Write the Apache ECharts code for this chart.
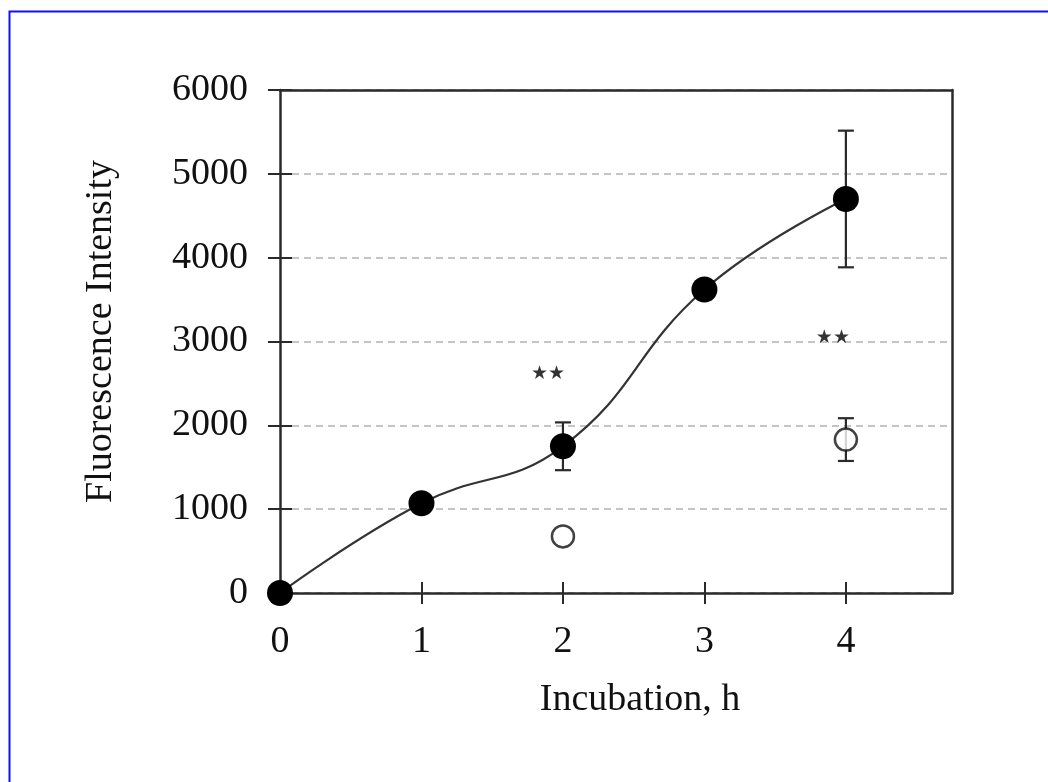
<!DOCTYPE html>
<html>
<head>
<meta charset="utf-8">
<script src="https://cdn.jsdelivr.net/npm/echarts@6/dist/echarts.min.js"></script>
<style>
  html, body { margin: 0; padding: 0; background: #fff; }
  #container { width: 1048px; height: 782px; }
</style>
</head>
<body>
<div id="container"></div>
<script>
// incubation time (h) and fluorescence readings
const hoursFilled = [0, 1, 2, 3, 4];
const valuesFilled = [0, 1070, 1750, 3620, 4700];
const errFilled = [40, 100, 285, 80, 815];

const hoursOpen = [2, 4];
const valuesOpen = [675, 1830];
const errOpen = [0, 255];

// significance marks (**)
const starX = [1.894, 3.908];
const starY = [2612, 3042];

const yTicks = [0, 1000, 2000, 3000, 4000, 5000, 6000];
const xTicks = [0, 1, 2, 3, 4];

const FONT = '"Liberation Serif", "DejaVu Serif", serif';
const INK = '#2a2a2a';

const zip = (xs, ys) => xs.map((x, i) => [x, ys[i]]);

const errData = zip(hoursFilled, valuesFilled).map((p, i) => [p[0], p[1], errFilled[i]])
  .concat(zip(hoursOpen, valuesOpen).map((p, i) => [p[0], p[1], errOpen[i]]))
  .filter(d => d[2] > 0);

const errorBars = function (params, api) {
  const x = api.value(0), y = api.value(1), e = api.value(2);
  const top = api.coord([x, y + e]);
  const bot = api.coord([x, y - e]);
  const cap = 8;
  const style = { stroke: INK, lineWidth: 2.2 };
  return {
    type: 'group',
    children: [
      { type: 'line', shape: { x1: top[0], y1: top[1], x2: bot[0], y2: bot[1] }, style },
      { type: 'line', shape: { x1: top[0] - cap, y1: top[1], x2: top[0] + cap, y2: top[1] }, style },
      { type: 'line', shape: { x1: bot[0] - cap, y1: bot[1], x2: bot[0] + cap, y2: bot[1] }, style }
    ]
  };
};

const chart = echarts.init(document.getElementById('container'), null, { renderer: 'canvas' });

const xBase = { type: 'value', min: 0, max: 4.75, interval: 1, splitLine: { show: false } };
const yBase = { type: 'value', min: 0, max: 6000, interval: 1000 };
const frameLine = { show: true, onZero: false, lineStyle: { color: INK, width: 2.5 } };
const tickStyle = { color: INK, width: 2 };

chart.setOption({
  animation: false,
  backgroundColor: '#fff',
  graphic: [{
    type: 'rect', left: 7, top: 9, silent: true,
    shape: { width: 1100, height: 900 },
    style: { fill: 'none', stroke: '#1010ff', lineWidth: 2 }
  }],
  grid: { left: 280, right: 96, top: 90, bottom: 189 },
  xAxis: [
    Object.assign({}, xBase, {
      position: 'bottom',
      name: 'Incubation, h', nameLocation: 'middle', nameGap: 88,
      nameTextStyle: { fontFamily: FONT, fontSize: 38, color: '#111', padding: [0, 0, 0, 48] },
      axisLine: frameLine,
      axisTick: { show: true, inside: false, length: 11, customValues: xTicks, lineStyle: tickStyle },
      axisLabel: {
        margin: 30, fontFamily: FONT, fontSize: 38, color: '#111',
        customValues: xTicks,
        formatter: v => String(v)
      }
    }),
    Object.assign({}, xBase, {
      position: 'bottom',
      axisLine: { show: false, onZero: false },
      axisTick: { show: true, inside: true, length: 11, customValues: xTicks, lineStyle: tickStyle },
      axisLabel: { show: false }
    }),
    Object.assign({}, xBase, {
      position: 'top',
      axisLine: frameLine,
      axisTick: { show: false },
      axisLabel: { show: false }
    })
  ],
  yAxis: [
    Object.assign({}, yBase, {
      position: 'left',
      name: 'Fluorescence Intensity', nameLocation: 'middle', nameGap: 160,
      nameTextStyle: { fontFamily: FONT, fontSize: 38, color: '#111', padding: [0, 0, 0, 20] },
      axisLine: frameLine,
      axisTick: { show: true, inside: false, length: 12, lineStyle: tickStyle },
      axisLabel: {
        margin: 32, fontFamily: FONT, fontSize: 38, color: '#111',
        formatter: v => yTicks.includes(v) ? String(v) : ''
      },
      splitLine: {
        show: true,
        lineStyle: { color: '#c4c4c4', width: 2, type: [7, 5] }
      }
    }),
    Object.assign({}, yBase, {
      position: 'left',
      axisLine: { show: false, onZero: false },
      axisTick: { show: true, inside: true, length: 12, lineStyle: tickStyle },
      axisLabel: { show: false },
      splitLine: { show: false }
    }),
    Object.assign({}, yBase, {
      position: 'right',
      axisLine: frameLine,
      axisTick: { show: false },
      axisLabel: { show: false },
      splitLine: { show: false }
    })
  ],
  series: [
    {
      type: 'custom',
      renderItem: errorBars,
      data: errData,
      encode: { x: 0, y: [1, 2] },
      z: 2
    },
    {
      type: 'line',
      data: zip(hoursFilled, valuesFilled),
      smooth: 0.45,
      symbol: 'circle',
      symbolSize: 26,
      lineStyle: { color: '#333', width: 2.2 },
      itemStyle: { color: '#000', borderWidth: 0 },
      z: 3
    },
    {
      type: 'scatter',
      data: zip(hoursOpen, valuesOpen),
      symbol: 'circle',
      symbolSize: 22,
      itemStyle: { color: '#fff', borderColor: '#111', borderWidth: 2.5 },
      z: 4
    },
    {
      type: 'scatter',
      data: zip(starX, starY),
      symbolSize: 0,
      silent: true,
      label: {
        show: true, position: 'inside', formatter: '\u2605\u2605',
        fontFamily: '"DejaVu Sans", sans-serif', fontSize: 19, color: '#000'
      },
      z: 5
    }
  ]
});
</script>
</body>
</html>
